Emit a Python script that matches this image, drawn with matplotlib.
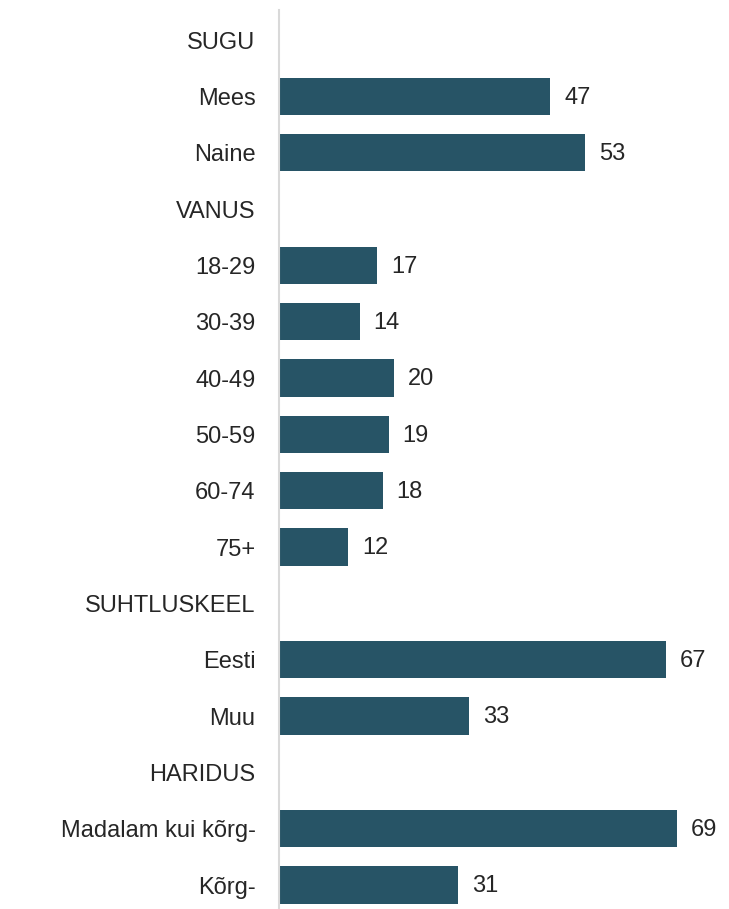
import matplotlib
matplotlib.use("Agg")
import matplotlib.pyplot as plt
import numpy as np

categories = ["SUGU", "Mees", "Naine", "VANUS", "18-29", "30-39", "40-49", "50-59",
              "60-74", "75+", "SUHTLUSKEEL", "Eesti", "Muu", "HARIDUS",
              "Madalam kui kõrg-", "Kõrg-"]
values = [None, 47, 53, None, 17, 14, 20, 19, 18, 12, None, 67, 33, None, 69, 31]

plt.rcParams['font.family'] = ['Liberation Sans', 'DejaVu Sans']

fig = plt.figure(figsize=(7.29, 9.09), dpi=100)
ax = fig.add_axes([279/729, 0, 1 - 279/729, 1 - 10/909])

y = np.arange(len(categories))
for yi, v in zip(y, values):
    if v is None:
        continue
    ax.barh(yi, v, height=0.66, color="#275466", edgecolor="none")
    ax.annotate(f"{v}", xy=(v, yi), xytext=(10, -1), textcoords="offset points",
                va="center", ha="left", fontsize=17, color="#262626")

ax.set_yticks(y)
ax.set_yticklabels(categories, fontsize=17, color="#262626")
ax.set_ylim(15.426, -0.533)
ax.set_xlim(0, 78)
ax.tick_params(axis="y", length=0, pad=17)
ax.set_xticks([])
for s in ["top", "right", "bottom"]:
    ax.spines[s].set_visible(False)
ax.spines["left"].set_color("#d9d9d9")
ax.spines["left"].set_linewidth(1.5)

fig.savefig("out.png", dpi=100)
